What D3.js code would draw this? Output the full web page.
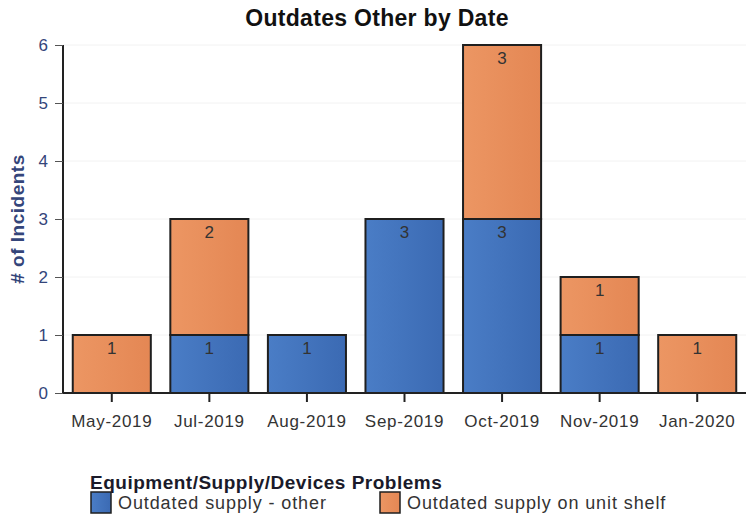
<!DOCTYPE html>
<html>
<head>
<meta charset="utf-8">
<script src="https://cdn.jsdelivr.net/npm/d3@7"></script>
<style>
  html, body { margin: 0; padding: 0; background: #fff; }
  svg { display: block; font-family: "Liberation Sans", Arial, sans-serif; }
</style>
</head>
<body>
<svg id="chart" width="750" height="524"></svg>
<script>
// Months shown on the x axis
const categories = ["May-2019", "Jul-2019", "Aug-2019", "Sep-2019", "Oct-2019", "Nov-2019", "Jan-2020"];
// Incident counts per problem type
const seriesNames = ["Outdated supply - other", "Outdated supply on unit shelf"];
const otherValues = [0, 1, 1, 3, 3, 1, 0];
const shelfValues = [1, 2, 0, 0, 3, 1, 1];
const yTicks = [0, 1, 2, 3, 4, 5, 6];

const svg = d3.select("#chart");
const margin = { left: 63, right: 4, top: 45, bottom: 131 };
const W = 750, H = 524;

const x = d3.scaleBand().domain(categories)
  .range([margin.left, W - margin.right]).paddingInner(0.2).paddingOuter(0.1);
const y = d3.scaleLinear().domain([0, 6]).range([H - margin.bottom, margin.top]);

// Gradients for the bar fills
const defs = svg.append("defs");
function grad(id, c1, c2) {
  const g = defs.append("linearGradient").attr("id", id)
    .attr("x1", "0").attr("x2", "1").attr("y1", "0").attr("y2", "0");
  g.append("stop").attr("offset", "0").attr("stop-color", c1);
  g.append("stop").attr("offset", "1").attr("stop-color", c2);
}
grad("gBlue", "#4a7dc6", "#3b6ab3");
grad("gOrange", "#ec9663", "#e48754");
const fills = ["url(#gBlue)", "url(#gOrange)"];

// Title
svg.append("text").attr("x", 377).attr("y", 26).attr("text-anchor", "middle")
  .attr("font-size", 23).attr("font-weight", "bold").attr("fill", "#111")
  .attr("letter-spacing", 0.3)
  .text("Outdates Other by Date");

// Faint gridlines
svg.append("g").selectAll("line").data(yTicks.slice(1)).join("line")
  .attr("x1", margin.left).attr("x2", W - margin.right)
  .attr("y1", d => y(d)).attr("y2", d => y(d))
  .attr("stroke", "#f2f2f2").attr("stroke-width", 1);

// Stacked data
const rows = categories.map((c, i) => ({ cat: c, other: otherValues[i], shelf: shelfValues[i] }));
const stack = d3.stack().keys(["other", "shelf"])(rows);

const layers = svg.append("g").selectAll("g").data(stack).join("g")
  .attr("fill", (d, i) => fills[i]);

layers.selectAll("rect").data(d => d.filter(s => s[1] - s[0] > 0)).join("rect")
  .attr("x", d => x(d.data.cat))
  .attr("width", x.bandwidth())
  .attr("y", d => y(d[1]))
  .attr("height", d => y(d[0]) - y(d[1]))
  .attr("stroke", "#1f1f1f").attr("stroke-width", 2);

// Value labels near the top of each segment
layers.selectAll("text").data(d => d.filter(s => s[1] - s[0] > 0)).join("text")
  .attr("x", d => x(d.data.cat) + x.bandwidth() / 2)
  .attr("y", d => y(d[1]) + 19)
  .attr("text-anchor", "middle").attr("font-size", 17)
  .attr("fill", "#333")
  .text(d => d[1] - d[0]);

// Y axis
const yAxis = svg.append("g").attr("transform", `translate(${margin.left},0)`)
  .call(d3.axisLeft(y).tickValues(yTicks).tickFormat(d3.format("d")).tickSize(8).tickPadding(7));
yAxis.select(".domain").attr("stroke", "#222").attr("stroke-width", 2).attr("d", `M0,${y(6)}V${y(0)}`);
yAxis.selectAll(".tick line").attr("stroke", "#555");
yAxis.selectAll(".tick text").attr("font-size", 17).attr("fill", "#34457a")
  .attr("font-family", "Liberation Sans, Arial, sans-serif");

// X axis
const xAxis = svg.append("g").attr("transform", `translate(0,${y(0)})`)
  .call(d3.axisBottom(x).tickSize(9).tickPadding(13));
xAxis.select(".domain").attr("stroke", "#222").attr("stroke-width", 2)
  .attr("d", `M${margin.left},0H${W - margin.right}`);
xAxis.selectAll(".tick line").attr("stroke", "#222").attr("stroke-width", 2);
xAxis.selectAll(".tick text").attr("font-size", 17).attr("fill", "#333")
  .attr("letter-spacing", 0.7)
  .attr("font-family", "Liberation Sans, Arial, sans-serif");

// Y axis title
svg.append("text")
  .attr("transform", `translate(24,${(y(0) + y(6)) / 2}) rotate(-90)`)
  .attr("text-anchor", "middle").attr("font-size", 19).attr("font-weight", "bold")
  .attr("letter-spacing", 0.5)
  .attr("fill", "#34457a").text("# of Incidents");

// Legend
const legend = svg.append("g");
legend.append("text").attr("x", 90).attr("y", 489).attr("font-size", 19)
  .attr("font-weight", "bold").attr("fill", "#1a1a2a").attr("letter-spacing", 0.5)
  .text("Equipment/Supply/Devices Problems");
const legendX = [91, 380];
seriesNames.forEach((name, i) => {
  legend.append("rect").attr("x", legendX[i]).attr("y", 492).attr("width", 20).attr("height", 21)
    .attr("fill", fills[i]).attr("stroke", "#1f1f1f").attr("stroke-width", 1.5);
  legend.append("text").attr("x", legendX[i] + 27).attr("y", 509).attr("font-size", 18)
    .attr("letter-spacing", 0.9)
    .attr("fill", "#333").text(name);
});
</script>
</body>
</html>
